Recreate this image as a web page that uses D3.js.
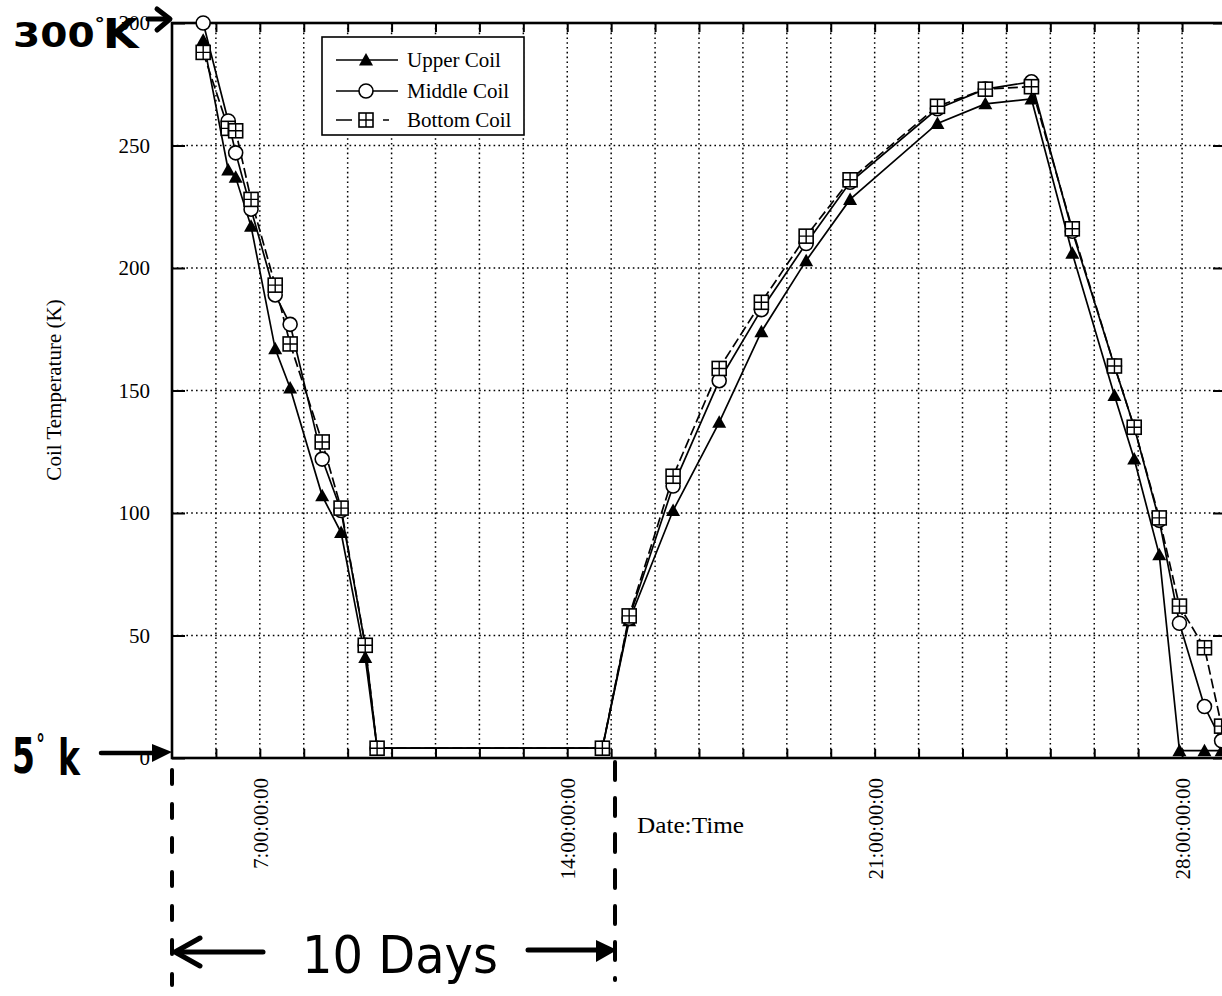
<!DOCTYPE html>
<html>
<head>
<meta charset="utf-8">
<script src="https://cdn.jsdelivr.net/npm/d3@7"></script>
<style>
  html, body { margin: 0; padding: 0; background: #fff; }
  svg { display: block; }
  .serif { font-family: "Liberation Serif", "Times New Roman", serif; fill: #000; }
  .hand { font-family: "DejaVu Sans", sans-serif; fill: #000; }
</style>
</head>
<body>
<svg id="chart" width="1222" height="996"></svg>
<script>
// Sample times (day number) and coil temperatures in kelvin
const sampleDays = [5.71, 6.28, 6.45, 6.8, 7.35, 7.69, 8.42, 8.85, 9.4, 9.67,
  14.8, 15.41, 16.41, 17.46, 18.42, 19.44, 20.44, 22.43, 23.52, 24.57,
  25.5, 26.46, 26.91, 27.48, 27.94, 28.51, 28.9];
const upperCoil = [293, 240, 237, 217, 167, 151, 107, 92, 41, 4,
  4, 56, 101, 137, 174, 203, 228, 259, 267, 269,
  206, 148, 122, 83, 3, 3, 3];
const middleCoil = [300, 260, 247, 224, 189, 177, 122, 101, 46, 4,
  4, 57, 111, 154, 183, 210, 235, 265, 273, 276,
  215, 160, 135, 97, 55, 21, 7];
const bottomCoil = [288, 257, 256, 228, 193, 169, 129, 102, 46, 4,
  4, 58, 115, 159, 186, 213, 236, 266, 273, 274,
  216, 160, 135, 98, 62, 45, 13];
const seriesNames = ["Upper Coil", "Middle Coil", "Bottom Coil"];
const tempTicks = [0, 50, 100, 150, 200, 250, 300];
const dateTicks = [7, 14, 21, 28];
const dateTickLabels = ["7:00:00:00", "14:00:00:00", "21:00:00:00", "28:00:00:00"];

const svg = d3.select("#chart");
const x = d3.scaleLinear().domain([5, 29]).range([172, 1226]);
const y = d3.scaleLinear().domain([0, 300]).range([758, 23]);
const dayGrid = d3.range(6, 29);

// dotted grid
const grid = svg.append("g").attr("stroke", "#000").attr("stroke-width", 1.5)
  .attr("stroke-dasharray", "1.6,3.2");
grid.selectAll("line.v").data(dayGrid).join("line").attr("class", "v")
  .attr("x1", d => x(d)).attr("x2", d => x(d)).attr("y1", y(300)).attr("y2", y(0));
grid.selectAll("line.h").data(tempTicks.slice(1, -1)).join("line").attr("class", "h")
  .attr("x1", x(5)).attr("x2", x(29)).attr("y1", d => y(d)).attr("y2", d => y(d));

// axes (ticks pointing inward)
const axLeft = svg.append("g").attr("transform", `translate(${x(5)},0)`)
  .call(d3.axisLeft(y).tickValues(tempTicks).tickSize(-13).tickPadding(22));
const axRight = svg.append("g").attr("transform", `translate(${x(29)},0)`)
  .call(d3.axisRight(y).tickValues(tempTicks).tickSize(-13).tickFormat(""));
const axBottom = svg.append("g").attr("transform", `translate(0,${y(0)})`)
  .call(d3.axisBottom(x).tickValues(dayGrid).tickSize(-9).tickFormat(""));
const axTop = svg.append("g").attr("transform", `translate(0,${y(300)})`)
  .call(d3.axisTop(x).tickValues(dayGrid).tickSize(-9).tickFormat(""));
[axLeft, axRight, axBottom, axTop].forEach(a => {
  a.select(".domain").remove();
  a.selectAll(".tick line").attr("stroke", "#000").attr("stroke-width", 2);
});
axLeft.selectAll(".tick text").attr("class", "serif").attr("font-size", 21)
  .attr("font-family", "Liberation Serif, serif").attr("fill", "#000");

// frame
svg.append("rect").attr("x", x(5)).attr("y", y(300))
  .attr("width", x(29) - x(5)).attr("height", y(0) - y(300))
  .attr("fill", "none").attr("stroke", "#000").attr("stroke-width", 2.6);

// date labels, rotated
svg.append("g").selectAll("text").data(dateTicks).join("text")
  .attr("class", "serif").attr("font-size", 21)
  .attr("text-anchor", "end")
  .attr("transform", d => `translate(${x(d) + 8},778) rotate(-90)`)
  .text((d, i) => dateTickLabels[i]);

svg.append("text").attr("class", "serif").attr("font-size", 23)
  .attr("x", 637).attr("y", 833).attr("textLength", 107).attr("lengthAdjust", "spacingAndGlyphs")
  .text("Date:Time");

svg.append("text").attr("class", "serif").attr("font-size", 21)
  .attr("text-anchor", "middle")
  .attr("transform", "translate(61,390) rotate(-90)")
  .text("Coil Temperature (K)");

// series
const seriesValues = [upperCoil, middleCoil, bottomCoil];
const seriesData = seriesValues.map(vals => sampleDays.map((d, i) => ({ day: d, temp: vals[i] })));
const line = d3.line().x(d => x(d.day)).y(d => y(d.temp));
const dashes = [null, null, "10,4"];

const triPath = "M0,-7L7,5.5L-7,5.5Z";
function drawMarker(g, kind) {
  if (kind === 0) {
    g.append("path").attr("d", triPath).attr("fill", "#000");
  } else if (kind === 1) {
    g.append("circle").attr("r", 7).attr("fill", "#fff").attr("stroke", "#000").attr("stroke-width", 1.6);
  } else {
    g.append("rect").attr("x", -7).attr("y", -7).attr("width", 14).attr("height", 14)
      .attr("fill", "#fff").attr("stroke", "#000").attr("stroke-width", 1.6);
    g.append("path").attr("d", "M0,-7V7M-7,0H7").attr("stroke", "#000").attr("stroke-width", 1.4);
  }
}

seriesData.forEach((data, k) => {
  svg.append("path").datum(data).attr("d", line)
    .attr("fill", "none").attr("stroke", "#000").attr("stroke-width", 1.7)
    .attr("stroke-dasharray", dashes[k]);
});
seriesData.forEach((data, k) => {
  svg.append("g").selectAll("g").data(data).join("g")
    .attr("transform", d => `translate(${x(d.day)},${y(d.temp)})`)
    .each(function () { drawMarker(d3.select(this), k); });
});

// legend
const legend = svg.append("g");
legend.append("rect").attr("x", 322).attr("y", 37).attr("width", 202).attr("height", 98)
  .attr("fill", "#fff").attr("stroke", "#000").attr("stroke-width", 1.6);
const legendRows = [60, 91, 120];
seriesNames.forEach((name, k) => {
  const ly = legendRows[k];
  legend.append("line").attr("x1", 336).attr("x2", 398).attr("y1", ly).attr("y2", ly)
    .attr("stroke", "#000").attr("stroke-width", 1.5)
    .attr("stroke-dasharray", k === 2 ? "16,31,6,60" : null);
  const m = legend.append("g").attr("transform", `translate(366,${ly})`);
  drawMarker(m, k);
  legend.append("text").attr("class", "serif").attr("font-size", 21)
    .attr("x", 407).attr("y", ly).attr("dy", "0.35em").text(name);
});

// hand-drawn annotations
const ink = svg.append("g").attr("stroke", "#000").attr("fill", "none")
  .attr("stroke-linecap", "round").attr("stroke-linejoin", "round");

const topNote = svg.append("text").attr("class", "hand").attr("font-weight", "bold")
  .attr("transform", "translate(13,47) scale(1.15,1)");
topNote.append("tspan").attr("font-size", 34).text("300");
topNote.append("tspan").attr("font-size", 18).attr("dy", -17).text("°");
topNote.append("tspan").attr("font-size", 40).attr("dy", 18).attr("dx", -2).text("K");
ink.append("path").attr("d", "M148,19H168").attr("stroke-width", 5);
ink.append("path").attr("d", "M157,9L170,19L157,30").attr("stroke-width", 5);

const bottomNote = svg.append("text").attr("class", "hand").attr("font-weight", "bold")
  .attr("transform", "translate(12,773) scale(0.66,1)");
bottomNote.append("tspan").attr("font-size", 50).text("5");
bottomNote.append("tspan").attr("font-size", 26).attr("dy", -20).attr("dx", 2).text("°");
bottomNote.append("tspan").attr("font-size", 50).attr("dy", 22).attr("dx", 20).text("k");
ink.append("path").attr("d", "M101,753H160").attr("stroke-width", 4.5);
svg.append("path").attr("d", "M152,744L172,752L152,762Z").attr("fill", "#000");

ink.append("path").attr("d", "M172,770V985").attr("stroke-width", 4).attr("stroke-dasharray", "14,20");
ink.append("path").attr("d", "M615,762V980").attr("stroke-width", 4).attr("stroke-dasharray", "18,18");

ink.append("path").attr("d", "M263,952H176").attr("stroke-width", 5);
ink.append("path").attr("d", "M200,938L175,952L200,966").attr("stroke-width", 5);
ink.append("path").attr("d", "M528,950H605").attr("stroke-width", 5);
svg.append("path").attr("d", "M596,940L617,950L596,962Z").attr("fill", "#000");
svg.append("text").attr("class", "hand").attr("font-size", 52)
  .attr("x", 302).attr("y", 973).attr("textLength", 196).attr("lengthAdjust", "spacingAndGlyphs").text("10 Days");
</script>
</body>
</html>
